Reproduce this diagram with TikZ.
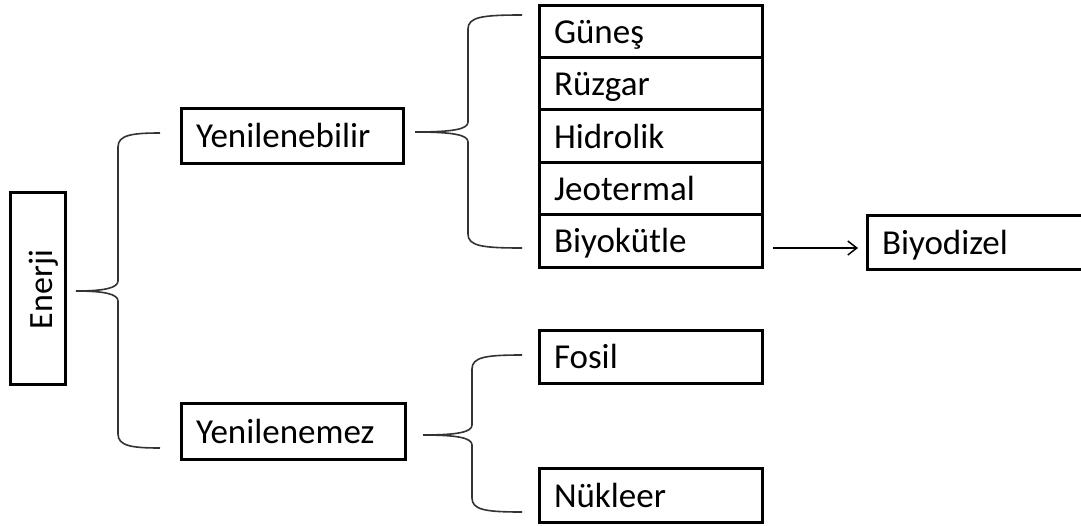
\documentclass[tikz,border=0pt]{standalone}
\usepackage{fontspec}
\setmainfont{Carlito}
\usetikzlibrary{arrows.meta,positioning}
% #1 tip x, #2 mid y, #3 vertical x, #4 end x, #5 top y, #6 bottom y
\newcommand\mybracepath[6]{%
  \draw[brc] (#4,#5) .. controls (#3+14,#5) and (#3,#5+2) .. (#3,#5+14)
    -- (#3,#2-10) .. controls (#3,#2-3) and (#3-14,#2) .. (#1,#2)
    .. controls (#3-14,#2) and (#3,#2+3) .. (#3,#2+10)
    -- (#3,#6-14) .. controls (#3,#6-2) and (#3+14,#6) .. (#4,#6);%
}
\begin{document}
\begin{tikzpicture}[x=1pt,y=-1pt,
  box/.style={draw=black, line width=3pt, inner xsep=15pt, inner ysep=0pt,
    outer sep=0pt, text height=29pt, text depth=5pt, align=left,
    anchor=north west, font=\fontsize{35}{42}\selectfont},
  rowbox/.style={box, text width=193pt, minimum height=52.4pt},
  brc/.style={draw=black!80, line width=1.6pt},
  arr/.style={draw=black, line width=1.5pt, -{Straight Barb[length=9pt,width=14pt,line width=1.5pt]}}
]
\useasboundingbox (0,0) rectangle (1081,525);

% Enerji
\node[draw=black, line width=3pt, outer sep=0pt, minimum width=55pt, minimum height=192pt] (enerji) at (37.5,288) {};
\node[rotate=90, anchor=base, inner sep=0pt, font=\fontsize{34}{40}\selectfont] (enerjitxt) at (52,289.5) {Enerji};

% Level 2
\node[box, text width=192pt, minimum height=55pt] (yen1) at (181,108) {Yenilenebilir};
\node[box, text width=194pt, minimum height=56pt] (yen2) at (181,403) {Yenilenemez};

% Renewable stack
\node[rowbox] (gunes) at (539,5) {Güneş};
\node[rowbox, anchor=north] (ruzgar) at (gunes.south) {Rüzgar};
\node[rowbox, anchor=north] (hidro) at (ruzgar.south) {Hidrolik};
\node[rowbox, anchor=north] (jeo) at (hidro.south) {Jeotermal};
\node[rowbox, anchor=north] (bio) at (jeo.south) {Biyokütle};

% Non-renewable
\node[rowbox, minimum height=53pt] (fosil) at (539,330) {Fosil};
\node[rowbox, minimum height=54pt] (nukleer) at (539,468) {Nükleer};

% Biyodizel
\node[rowbox, minimum height=54pt] (dizel) at (867,215) {Biyodizel};

% Braces
\mybracepath{76}{291}{118}{160}{133}{448}
\mybracepath{415}{132}{468}{522}{15}{248}
\mybracepath{423}{435}{472}{522}{355}{512}

% Arrow
\coordinate (ay) at (0,248);
\draw[arr, shorten <=11pt, shorten >=9pt] (bio.east |- ay) -- (dizel.west |- ay);
\end{tikzpicture}
\end{document}
